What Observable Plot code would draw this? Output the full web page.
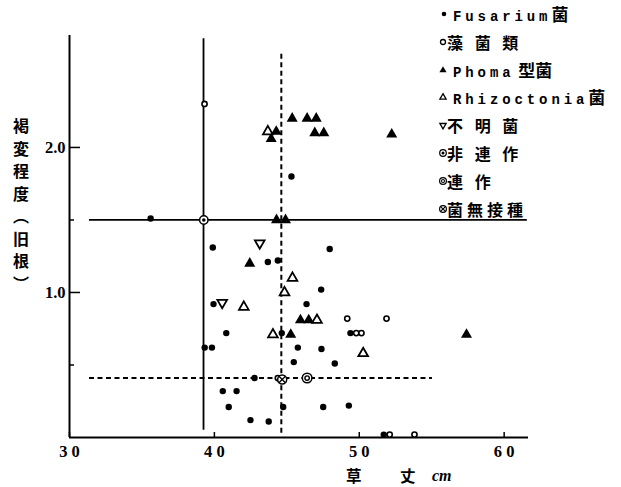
<!DOCTYPE html>
<html><head><meta charset="utf-8">
<script src="https://cdn.jsdelivr.net/npm/d3@7"></script>
<script src="https://cdn.jsdelivr.net/npm/@observablehq/plot@0.6"></script>
<style>
html,body{margin:0;background:#fff;overflow:hidden;}
#wrap{position:relative;width:621px;height:487px;overflow:hidden;background:#fff;}
#wrap svg.chart{position:absolute;left:0;top:0;}
#wrap svg.chart text{font-weight:bold;}
.ov{position:absolute;color:#000;white-space:nowrap;}
.cjk{font-family:"Noto Sans CJK JP",sans-serif;font-weight:700;}
.lat{font-family:"Liberation Mono",monospace;font-weight:700;font-size:14px;letter-spacing:3.9px;}
</style></head><body><div id="wrap"></div>
<script>
// ---- tick labels / axes
const xTicks = [30, 40, 50, 60];
const yTicksMajor = [1.0, 2.0];
const yTicksMinor = [0.5, 1.5];
const xTitleParts = ["草", "丈"];
const xUnit = "cm";
const yTitle = "褐変程度（旧根）";

// ---- series  [草丈 cm, 褐変程度]
const fusarium = [
  [35.6,1.51],[45.32,1.80],[39.89,1.31],[43.69,1.21],[44.38,1.22],[47.96,1.30],
  [47.37,1.02],[39.94,0.92],[46.36,0.92],[40.82,0.72],[44.65,0.72],[49.39,0.72],
  [39.33,0.62],[39.83,0.62],[45.76,0.62],[47.39,0.61],[45.48,0.52],[48.31,0.51],
  [42.77,0.41],[40.58,0.32],[41.53,0.32],[40.99,0.21],[44.75,0.21],[47.51,0.21],
  [49.28,0.22],[42.49,0.12],[43.75,0.11],[51.69,0.02]
];
const algae = [
  [39.32,2.30],[49.17,0.82],[51.88,0.82],[49.79,0.72],[50.15,0.72],[44.38,0.41],
  [52.10,0.02],[53.81,0.02]
];
const phoma = [
  [43.92,2.06],[44.27,2.11],[45.37,2.20],[46.40,2.20],[47.03,2.20],[46.93,2.10],
  [47.55,2.10],[52.24,2.09],[44.29,1.50],[44.91,1.50],[42.44,1.20],[45.94,0.81],
  [46.51,0.81],[45.27,0.71],[57.40,0.71]
];
const rhizoctonia = [
  [43.69,2.11],[45.39,1.10],[44.84,1.00],[42.03,0.90],[47.08,0.81],[44.04,0.71],[50.27,0.58]
];
const unknown = [[43.13,1.34],[40.54,0.93]];
const nonContinuous = [[39.27,1.50]];
const continuous = [[46.40,0.41]];
const uninoculated = [[44.68,0.40]];

// ---- reference (mean) lines
const solidV = [{x: 39.25, y1: 0.05, y2: 2.75}];
const solidH = [{y: 1.50, x1: 31.38, x2: 61.6}];
const dashV = [{x: 44.62, y1: 0.03, y2: 2.66}];
const dashH = [{y: 0.41, x1: 31.38, x2: 55.05}];

// ---- legend
const legendLabels = ["Fusarium菌","藻 菌 類","Phoma 型菌","Rhizoctonia菌","不 明 菌","非 連 作","連 作","菌無接種"];
const legendKinds = ["fus","alg","pho","rhi","unk","non","con","ctl"];

const K = "#000";
const crossSymbol = {
  draw(context, size) {
    const r = Math.sqrt(size / Math.PI) * Math.SQRT1_2;
    context.moveTo(-r, -r); context.lineTo(r, r);
    context.moveTo(-r, r); context.lineTo(r, -r);
  }
};

const chart = Plot.plot({
  width: 621, height: 487,
  marginLeft: 69, marginRight: 93, marginTop: 35, marginBottom: 50,
  x: {domain: [30, 61.68]},
  y: {domain: [0, 2.772]},
  style: {fontFamily: "'Liberation Serif', serif", fontSize: "16.5px", fontWeight: "bold", color: K, background: "transparent", overflow: "visible"},
  marks: [
    Plot.axisX({ticks: xTicks, tickSize: -5, tickPadding: 13, strokeWidth: 1.5, label: null,
      tickFormat: d => String(d).split("").join(" ")}),
    Plot.axisY({ticks: yTicksMajor, tickSize: -11, tickPadding: 15, strokeWidth: 1.5, label: null,
      tickFormat: d => d.toFixed(1)}),
    Plot.axisY({ticks: yTicksMinor, tickSize: -5, strokeWidth: 1.5, label: null, tickFormat: () => ""}),
    Plot.ruleX([30], {stroke: K, strokeWidth: 2}),
    Plot.ruleY([0], {stroke: K, strokeWidth: 2}),
    Plot.ruleX(solidV, {x: "x", y1: "y1", y2: "y2", stroke: K, strokeWidth: 1.8}),
    Plot.ruleY(solidH, {y: "y", x1: "x1", x2: "x2", stroke: K, strokeWidth: 1.8}),
    Plot.ruleX(dashV, {x: "x", y1: "y1", y2: "y2", stroke: K, strokeWidth: 2, strokeDasharray: "5,3.5"}),
    Plot.ruleY(dashH, {y: "y", x1: "x1", x2: "x2", stroke: K, strokeWidth: 2, strokeDasharray: "5,3.5"}),
    Plot.dot(fusarium, {r: 3.2, fill: K, stroke: "none"}),
    Plot.dot(algae, {r: 2.6, fill: "white", stroke: K, strokeWidth: 1.6}),
    Plot.dot(phoma, {symbol: "triangle", r: 4.1, fill: K, stroke: "none"}),
    Plot.dot(rhizoctonia, {symbol: "triangle", r: 3.6, fill: "white", stroke: K, strokeWidth: 1.8}),
    Plot.dot(unknown, {symbol: "triangle", rotate: 180, r: 3.6, fill: "white", stroke: K, strokeWidth: 1.8}),
    Plot.dot(nonContinuous, {r: 4.2, fill: "white", stroke: K, strokeWidth: 1.5}),
    Plot.dot(nonContinuous, {r: 1.8, fill: K, stroke: "none"}),
    Plot.dot(continuous, {r: 4.8, fill: "white", stroke: K, strokeWidth: 1.5}),
    Plot.dot(continuous, {r: 2.2, fill: "none", stroke: K, strokeWidth: 1.4}),
    Plot.dot(uninoculated, {r: 4.5, fill: "white", stroke: K, strokeWidth: 1.5}),
    Plot.dot(uninoculated, {r: 4.5, symbol: crossSymbol, fill: "none", stroke: K, strokeWidth: 1.3})
  ]
});
chart.classList.add("chart");
const wrap = document.getElementById("wrap");
wrap.appendChild(chart);

// ---- axis titles
const yt = document.createElement("div");
yt.className = "ov cjk";
yt.style.cssText = "left:12px;top:118px;font-size:16px;letter-spacing:6.5px;writing-mode:vertical-rl;line-height:18px;";
yt.textContent = yTitle;
wrap.appendChild(yt);

[346, 400].forEach((left, i) => {
  const xt = document.createElement("div");
  xt.className = "ov cjk";
  xt.style.cssText = `left:${left}px;top:464.5px;font-size:15.5px;line-height:20px;`;
  xt.textContent = xTitleParts[i];
  wrap.appendChild(xt);
});
const xu = document.createElement("div");
xu.className = "ov";
xu.style.cssText = "left:432px;top:466px;font-size:16px;line-height:20px;font-family:'Liberation Serif',serif;font-weight:bold;font-style:italic;";
xu.textContent = xUnit;
wrap.appendChild(xu);

// ---- legend
function legendSymbol(kind) {
  const tri = (size, fill, rot) => `<path d="${d3.symbol(d3.symbolTriangle, size)()}" transform="translate(7,7.3) rotate(${rot})" fill="${fill}" stroke="${fill === "none" ? K : "none"}" stroke-width="1.3"/>`;
  let s = "";
  if (kind === "fus") s = `<circle cx="8" cy="7" r="2.3" fill="${K}"/>`;
  if (kind === "alg") s = `<circle cx="7" cy="7" r="2.5" fill="none" stroke="${K}" stroke-width="1.3"/>`;
  if (kind === "pho") s = tri(22, K, 0);
  if (kind === "rhi") s = tri(17, "none", 0);
  if (kind === "unk") s = tri(17, "none", 180);
  if (kind === "non") s = `<circle cx="7" cy="7" r="3.3" fill="none" stroke="${K}" stroke-width="1.2"/><circle cx="7" cy="7" r="1.5" fill="${K}"/>`;
  if (kind === "con") s = `<circle cx="7" cy="7" r="3.4" fill="none" stroke="${K}" stroke-width="1.2"/><circle cx="7" cy="7" r="1.5" fill="none" stroke="${K}" stroke-width="1.1"/>`;
  if (kind === "ctl") s = `<circle cx="7" cy="7" r="3.4" fill="none" stroke="${K}" stroke-width="1.2"/><path d="M4.8,4.8L9.2,9.2M4.8,9.2L9.2,4.8" stroke="${K}" stroke-width="1.1"/>`;
  return `<svg width="14" height="14" viewBox="0 0 14 14">${s}</svg>`;
}
legendLabels.forEach((label, i) => {
  const cy = 14 + i * 27.8;
  const m = document.createElement("div");
  m.className = "ov";
  m.style.cssText = `left:436px;top:${cy - 7}px;width:14px;height:14px;`;
  m.innerHTML = legendSymbol(legendKinds[i]);
  wrap.appendChild(m);
  const hasLatin = /[A-Za-z]/.test(label);
  const t = document.createElement("div");
  t.className = "ov cjk";
  t.style.cssText = `left:${hasLatin ? 453 : 447}px;top:${cy - 11}px;line-height:22px;font-size:${hasLatin ? 17 : 16}px;letter-spacing:${hasLatin ? 0 : 4}px;`;
  t.innerHTML = label.replace(/([A-Za-z]+)/g, '<span class="lat">$1</span>');
  wrap.appendChild(t);
});
</script>
</body></html>
